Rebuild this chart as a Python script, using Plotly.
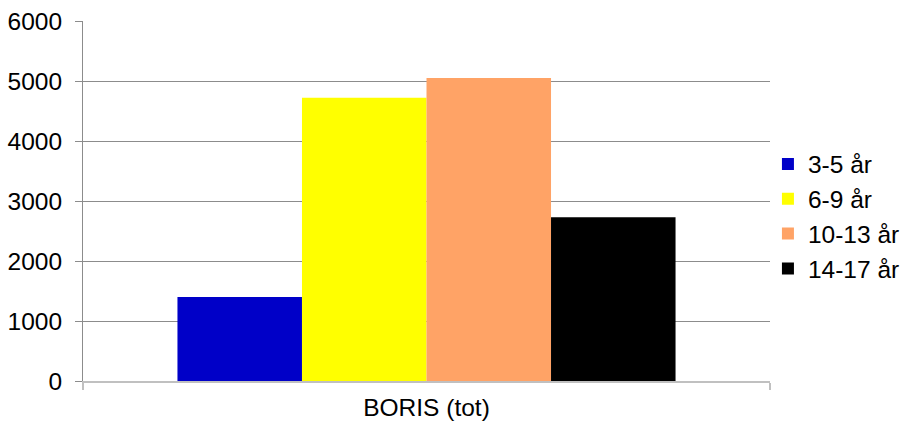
import plotly.graph_objects as go

categories = ["BORIS (tot)"]
series_names = ["3-5 år", "6-9 år", "10-13 år", "14-17 år"]
series_values = [[1400], [4720], [5050], [2730]]
series_colors = ["#0000c8", "#ffff00", "#ffa366", "#000000"]
y_ticks = [0, 1000, 2000, 3000, 4000, 5000, 6000]

fig = go.Figure()
for name, vals, col in zip(series_names, series_values, series_colors):
    fig.add_trace(go.Bar(x=categories, y=vals, name=name, marker_color=col,
                         marker_line_width=0, legendgroup=name))

font = dict(family="Liberation Sans, Arial, sans-serif", size=24.5, color="#000000")
fig.update_layout(
    width=902, height=425,
    margin=dict(l=83, r=132, t=21, b=44, autoexpand=False),
    paper_bgcolor="white", plot_bgcolor="white",
    font=font,
    barmode="group", bargap=0.275, bargroupgap=0,
    showlegend=True,
    legend=dict(x=0.997, y=0.457, xanchor="left", yanchor="middle",
                font=font, itemwidth=30, tracegroupgap=0,
                bgcolor="rgba(0,0,0,0)"),
    xaxis=dict(showline=True, linecolor="#c0c0c0", linewidth=2,
               ticks="outside", tickson="boundaries", ticklen=7,
               tickwidth=2, tickcolor="#c0c0c0",
               tickfont=font, ticklabelstandoff=4, automargin=False),
    yaxis=dict(range=[0, 6000], tickvals=y_ticks, showgrid=True,
               gridcolor="#8c8c8c", gridwidth=1, showline=True,
               linecolor="#8c8c8c", linewidth=1, ticks="outside",
               ticklen=7, tickcolor="#8c8c8c", tickfont=font,
               zeroline=False, ticklabelstandoff=8, automargin=False),
)
fig.write_html("out.html")
